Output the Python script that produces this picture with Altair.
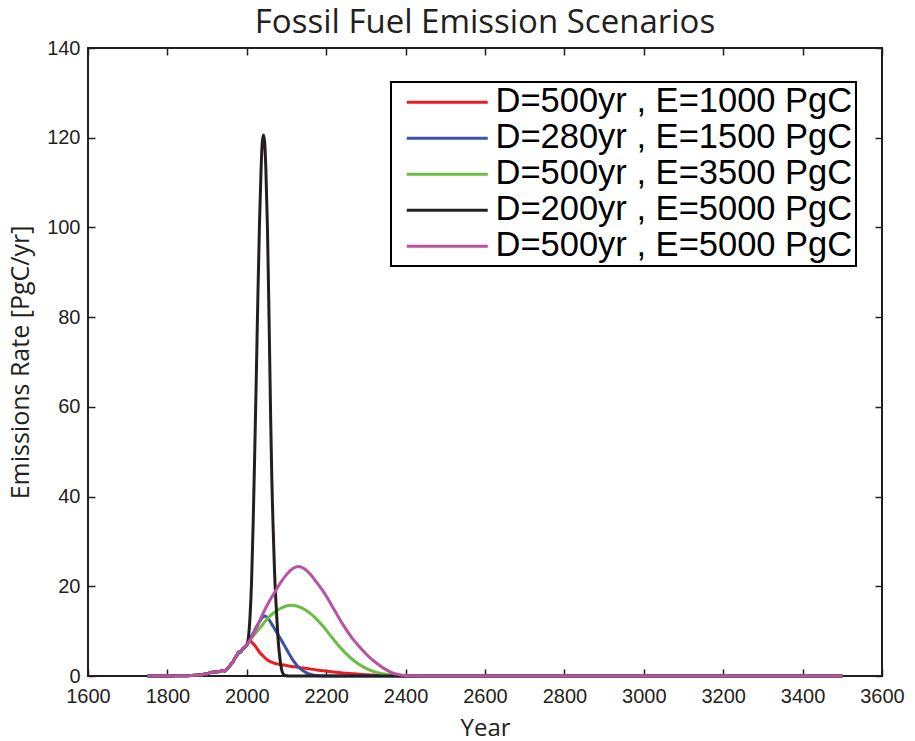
import altair as alt
import pandas as pd

SCENARIOS = [
    "D=500yr , E=1000 PgC",
    "D=280yr , E=1500 PgC",
    "D=500yr , E=3500 PgC",
    "D=200yr , E=5000 PgC",
    "D=500yr , E=5000 PgC",
]
COLORS = ["#ec1c24", "#3a53a4", "#6abd45", "#231f20", "#b9529f"]

# shared historical emissions
HIST_YEARS = [1750, 1800, 1850, 1870, 1880, 1890, 1900, 1910, 1920, 1930, 1940, 1945,
              1950, 1955, 1960, 1965, 1970, 1975, 1980, 1985, 1990, 1995, 2000]
HIST_VALUES = [0, 0.02, 0.06, 0.15, 0.25, 0.35, 0.5, 0.8, 0.9, 1.0, 1.2, 1.1,
               1.6, 2.0, 2.6, 3.1, 4.0, 4.6, 5.3, 5.4, 6.1, 6.4, 6.9]

RED_YEARS = [2004, 2008, 2013, 2019, 2025, 2032, 2042, 2050, 2059, 2068, 2076, 2093,
             2120, 2152, 2180, 2203, 2236, 2270, 2300, 2321, 2350, 2380, 2420, 2480, 3500]
RED_VALUES = [7.4, 7.9, 7.5, 6.9, 6.2, 5.3, 4.4, 3.7, 3.2, 2.9, 2.7, 2.45,
              2.05, 1.65, 1.3, 1.05, 0.75, 0.5, 0.3, 0.22, 0.12, 0.06, 0.02, 0, 0]

BLUE_YEARS = [2004, 2008, 2017, 2025, 2034, 2041, 2046, 2052, 2060, 2068, 2080, 2093,
              2105, 2118, 2130, 2143, 2155, 2169, 2185, 2200, 3500]
BLUE_VALUES = [7.6, 8.3, 9.7, 11.1, 12.4, 13.2, 13.4, 13.0, 12.0, 10.8, 9.0, 7.1,
               5.2, 3.3, 2.0, 1.1, 0.5, 0.2, 0.05, 0, 0]

GREEN_YEARS = [2004, 2017, 2034, 2050, 2068, 2090, 2110, 2130, 2150, 2170, 2190, 2210,
               2230, 2250, 2270, 2290, 2310, 2330, 2350, 2370, 2390, 2420, 2460, 2500, 3500]
GREEN_VALUES = [7.5, 9.0, 10.8, 12.6, 14.1, 15.3, 15.8, 15.5, 14.6, 13.2, 11.3, 9.1,
                6.9, 5.0, 3.4, 2.2, 1.3, 0.75, 0.4, 0.2, 0.09, 0.03, 0.01, 0, 0]

BLACK_YEARS = [2004, 2008, 2012, 2016, 2020, 2024, 2028, 2032, 2036, 2039, 2042, 2045,
               2048, 2052, 2056, 2060, 2063, 2066, 2070, 2075, 2079, 2084, 2088, 2092,
               2097, 2105, 3500]
BLACK_VALUES = [8.5, 13, 21, 34, 50, 67, 85, 101, 113, 119, 120.6, 119,
                113, 100, 80, 58, 44, 34, 23, 14, 8, 3.5, 1.3, 0.4,
                0.1, 0, 0]

MAGENTA_YEARS = [2004, 2010, 2025, 2040, 2055, 2070, 2085, 2100, 2115, 2130, 2145, 2160,
                 2175, 2190, 2205, 2220, 2235, 2250, 2265, 2280, 2295, 2310, 2325, 2340,
                 2355, 2370, 2385, 2400, 2420, 2450, 2500, 3500]
MAGENTA_VALUES = [7.5, 8.3, 10.8, 13.8, 16.4, 18.6, 20.8, 22.6, 23.9, 24.4, 23.9, 22.7,
                  21.0, 19.2, 17.1, 14.8, 12.5, 10.4, 8.5, 6.9, 5.4, 4.1, 3.0, 2.0,
                  1.2, 0.6, 0.3, 0.12, 0.04, 0.01, 0, 0]

X_TICKS = [1600, 1800, 2000, 2200, 2400, 2600, 2800, 3000, 3200, 3400, 3600]
Y_TICKS = [0, 20, 40, 60, 80, 100, 120, 140]

FUTURE = [
    (RED_YEARS, RED_VALUES),
    (BLUE_YEARS, BLUE_VALUES),
    (GREEN_YEARS, GREEN_VALUES),
    (BLACK_YEARS, BLACK_VALUES),
    (MAGENTA_YEARS, MAGENTA_VALUES),
]

rows = []
for name, (yrs, vals) in zip(SCENARIOS, FUTURE):
    for y, v in zip(HIST_YEARS + yrs, HIST_VALUES + vals):
        rows.append({"year": y, "value": v, "scenario": name})
df = pd.DataFrame(rows)

x_scale = alt.Scale(domain=[1600, 3600], nice=False, zero=False)
y_scale = alt.Scale(domain=[0, 140], nice=False)

lines = alt.Chart(df).mark_line(strokeWidth=3, interpolate="monotone").encode(
    x=alt.X("year:Q", scale=x_scale,
            axis=alt.Axis(orient="bottom", values=X_TICKS, format="d", title="Year",
                          offset=-7, tickSize=7, domain=False, grid=False,
                          labelFlush=False, labelOverlap=False,
                          labelPadding=10, titlePadding=10, titleFontSize=24)),
    y=alt.Y("value:Q", scale=y_scale,
            axis=alt.Axis(orient="left", values=Y_TICKS, format="d",
                          title="Emissions Rate [PgC/yr]",
                          offset=-7, tickSize=7, domain=False, grid=False,
                          labelFlush=False, labelOverlap=False,
                          labelPadding=8, titlePadding=13, titleFontSize=25)),
    color=alt.Color("scenario:N",
                    scale=alt.Scale(domain=SCENARIOS, range=COLORS),
                    legend=alt.Legend(title=None, orient="none", legendX=303, legendY=34,
                                      symbolType="M-3,0H3", symbolSize=729,
                                      symbolStrokeWidth=3, symbolOffset=36,
                                      labelOffset=31, labelFontSize=34.5,
                                      labelExpr="datum.label + '  '",
                                      labelFont="Liberation Sans", labelColor="black",
                                      labelLimit=600, rowPadding=1, padding=3,
                                      strokeColor="black", fillColor="white")),
)

frame = alt.Chart(pd.DataFrame({"year": [1600], "value": [0]})).mark_point(opacity=0).encode(
    x=alt.X("year:Q", scale=x_scale,
            axis=alt.Axis(orient="top", values=X_TICKS, labels=False, title=None,
                          offset=-7, tickSize=7, domain=False, grid=False)),
    y=alt.Y("value:Q", scale=y_scale,
            axis=alt.Axis(orient="right", values=Y_TICKS, labels=False, title=None,
                          offset=-7, tickSize=7, domain=False, grid=False)),
)

chart = alt.layer(lines, frame).resolve_axis(x="independent", y="independent").properties(
    width=794, height=628,
    autosize="none",
    padding={"left": 88, "top": 48, "right": 33, "bottom": 65},
    title=alt.Title("Fossil Fuel Emission Scenarios", font="Open Sans", fontSize=33,
                    fontWeight="normal", color="#231f20", orient="top",
                    anchor="middle", frame="group", offset=8, dy=10),
).configure_view(
    stroke="#231f20", strokeWidth=2
).configure_axis(
    tickColor="#231f20", tickWidth=1.5,
    labelFont="Liberation Sans", labelFontSize=20, labelColor="#231f20",
    titleFont="Open Sans", titleFontWeight="normal", titleColor="#231f20",
).configure_legend(
    strokeWidth=2
)

chart.save("out.html", embed_options={"renderer": "svg", "actions": False})
